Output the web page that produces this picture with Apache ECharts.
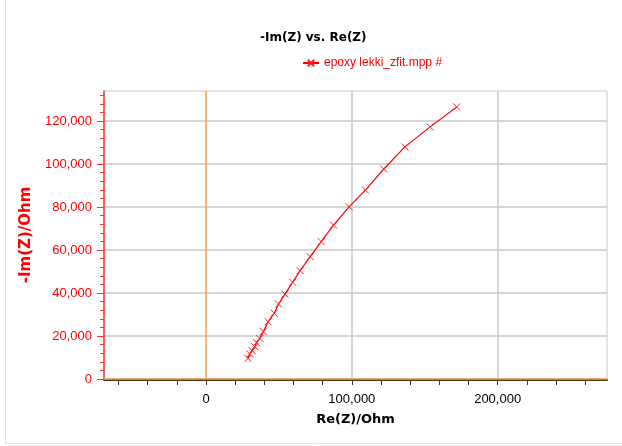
<!DOCTYPE html>
<html><head><meta charset="utf-8">
<script src="https://cdn.jsdelivr.net/npm/echarts@6/dist/echarts.min.js"></script>
<style>html,body{margin:0;padding:0;background:#fff}#c{width:622px;height:446px}</style>
</head><body><div id="c"></div>
<script>
// Data
const seriesName = 'epoxy lekki_zfit.mpp #';
const reZ = [28800, 30000, 31600, 33400, 34600, 36900, 39200, 42600, 46800, 49700, 54100, 59400, 64500, 71400, 79000, 87400, 98100, 109300, 121900, 136400, 153700, 171900];
const negImZ = [9600, 11600, 13200, 15000, 16900, 18900, 22000, 26600, 30600, 34900, 39500, 45000, 50400, 56900, 63900, 71600, 80100, 87900, 97700, 108000, 117300, 126600];
const xTickValues = [-60000, -40000, -20000, 0, 20000, 40000, 60000, 80000, 100000, 120000, 140000, 160000, 180000, 200000, 220000, 240000, 260000];
const xLabelValues = [0, 100000, 200000];
const yLabelValues = [0, 20000, 40000, 60000, 80000, 100000, 120000];
const yMinorValues = [];
for (let v = 0; v <= 132000; v += 4000) yMinorValues.push(v);

const fmt = v => String(Math.round(v)).replace(/\B(?=(\d{3})+(?!\d))/g, ',');
const xMin = -70000, xMax = 275000, yMin = 0, yMax = 134000;
const crossPath = 'path://M0,0L10,10M10,0L0,10';

const chart = echarts.init(document.getElementById('c'), null, {renderer: 'canvas'});
chart.setOption({
  backgroundColor: '#fff',
  animation: false,
  title: {
    text: '-Im(Z) vs. Re(Z)', left: 255, top: 27,
    textStyle: {fontFamily: 'DejaVu Sans', fontWeight: 'bold', fontSize: 12, color: '#000'}
  },
  legend: {
    left: 297, top: 52, itemWidth: 16, itemHeight: 8, itemGap: 4,
    textStyle: {fontFamily: 'Liberation Sans', fontSize: 12, color: '#ff0000', padding: [0,0,0,0]},
    data: [seriesName]
  },
  graphic: [
    {type: 'line', shape: {x1: 5.5, y1: 0, x2: 5.5, y2: 443.5}, style: {stroke: '#dfe3ee', lineWidth: 1}, silent: true},
    {type: 'line', shape: {x1: 5.5, y1: 443.5, x2: 622, y2: 443.5}, style: {stroke: '#dfe3ee', lineWidth: 1}, silent: true}
  ],
  grid: {left: 104, top: 91, right: 15, bottom: 67, show: true, borderColor: '#c8c8c8', borderWidth: 1, backgroundColor: '#fff'},
  xAxis: [
    {
      type: 'value', min: xMin, max: xMax, position: 'bottom', offset: 1,
      name: 'Re(Z)/Ohm', nameLocation: 'middle', nameGap: 33,
      nameTextStyle: {fontFamily: 'DejaVu Sans', fontWeight: 'bold', fontSize: 13, color: '#000'},
      axisLine: {show: true, onZero: false, lineStyle: {color: '#4a3420', width: 2}},
      axisTick: {show: true, customValues: xTickValues, length: 5, lineStyle: {color: '#4a3420', width: 1}},
      axisLabel: {show: true, customValues: xLabelValues, formatter: fmt, margin: 13,
        fontFamily: 'Liberation Sans', fontSize: 13, color: '#000'},
      splitLine: {show: false}
    },
    {
      type: 'value', min: xMin, max: xMax, position: 'bottom',
      axisLine: {show: false, onZero: false},
      axisTick: {show: false, customValues: [100000, 200000]},
      axisLabel: {show: false, customValues: [100000, 200000]},
      splitLine: {show: true, lineStyle: {color: '#c8c8c8', width: 1.5}}
    }
  ],
  yAxis: [
    {
      type: 'value', min: yMin, max: yMax, position: 'left',
      name: '-Im(Z)/Ohm', nameLocation: 'middle', nameGap: 66,
      nameTextStyle: {fontFamily: 'DejaVu Sans', fontWeight: 'bold', fontSize: 15, color: '#ff0000'},
      axisLine: {show: true, onZero: false, lineStyle: {color: '#ff3030', width: 1.5}},
      axisTick: {show: true, customValues: yLabelValues, length: 7, lineStyle: {color: '#ff3030', width: 1}},
      axisLabel: {show: true, customValues: yLabelValues, formatter: fmt, margin: 12,
        fontFamily: 'Liberation Sans', fontSize: 13, color: '#ff0000'},
      splitLine: {show: true, lineStyle: {color: '#c8c8c8', width: 1.5}}
    },
    {
      type: 'value', min: yMin, max: yMax, position: 'left',
      axisLine: {show: false, onZero: false},
      axisTick: {show: true, customValues: yMinorValues, length: 4, lineStyle: {color: '#ff3030', width: 1}},
      axisLabel: {show: false},
      splitLine: {show: false}
    }
  ],
  series: [{
    name: seriesName,
    type: 'line',
    xAxisIndex: 0, yAxisIndex: 0,
    data: reZ.map((x, i) => [x, negImZ[i]]),
    symbol: crossPath, symbolSize: 7, showSymbol: true,
    lineStyle: {color: '#ff0000', width: 1.2},
    itemStyle: {color: 'rgba(0,0,0,0)', borderColor: '#ff2020', borderWidth: 1},
    z: 5,
    markLine: {
      silent: true, symbol: 'none', label: {show: false},
      lineStyle: {color: '#f5a040', width: 1.5, type: 'solid'},
      data: [{xAxis: 0}, {yAxis: 0}]
    }
  }]
});
</script></body></html>
